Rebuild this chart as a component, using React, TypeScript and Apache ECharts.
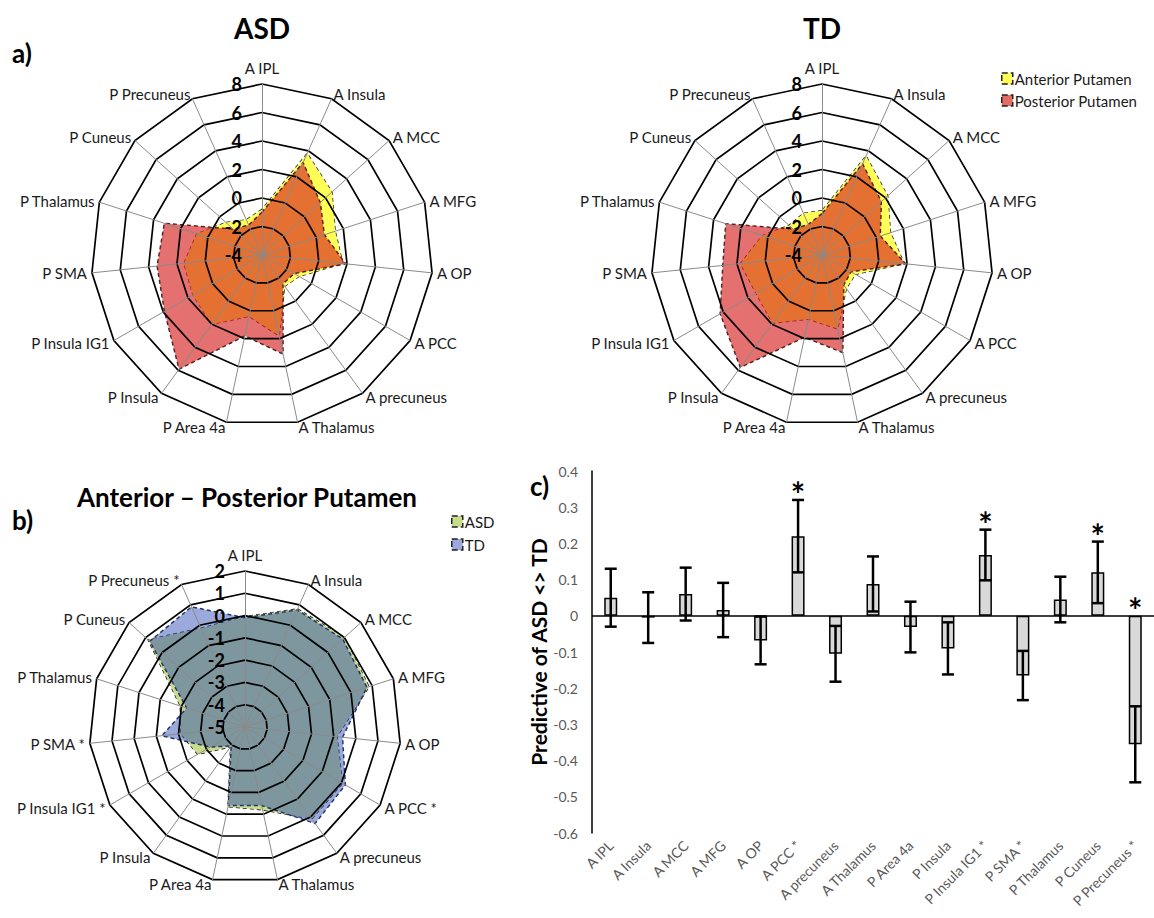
import React, { useEffect, useRef } from "react";
import * as echarts from "echarts";

const FONT = "Lato";

// Radar axes (clockwise from top, as in the figure)
const radarAxes = ["A IPL", "A Insula", "A MCC", "A MFG", "A OP", "A PCC", "A precuneus", "A Thalamus", "P Area 4a", "P Insula", "P Insula IG1", "P SMA", "P Thalamus", "P Cuneus", "P Precuneus"];
const diffAxes = ["A IPL", "A Insula", "A MCC", "A MFG", "A OP", "A PCC *", "A precuneus", "A Thalamus", "P Area 4a", "P Insula", "P Insula IG1 *", "P SMA *", "P Thalamus", "P Cuneus", "P Precuneus *"];

// a) ASD
const asdAnterior = [-0.8, 3.8, 2.6, 1.4, 1.7, -1.0, -1.3, 1.8, 0.4, 2.0, 1.6, 1.5, 0.8, -0.6, -1.3];
const asdPosterior = [-1.0, 3.1, 1.5, 0.6, 1.9, -1.4, -1.5, 3.1, 1.8, 5.9, 3.9, 3.4, 3.2, -1.3, -1.7];
// a) TD
const tdAnterior = [-0.9, 3.6, 2.2, 1.05, 1.8, -1.3, -1.1, 1.3, 0.6, 1.9, 1.35, 1.75, 0.4, -0.9, -0.8];
const tdPosterior = [-1.1, 3.0, 1.6, 0.3, 1.9, -1.65, -1.4, 3.0, 1.9, 5.75, 4.25, 3.0, 3.1, -1.3, -1.65];
// b) Anterior - Posterior
const diffASD = [-0.05, 0.8, 1.0, 0.85, -0.85, 0.05, 0.1, -1.2, -1.35, -3.9, -2.55, -2.1, -1.95, 0.85, -0.15];
const diffTD = [-0.1, 0.75, 0.9, 0.75, -0.6, 0.2, 0.35, -1.4, -1.4, -3.95, -3.2, -1.25, -2.25, 0.75, 0.9];

// c) bar chart
const barCategories = diffAxes;
const barValues = [0.05, -0.005, 0.06, 0.016, -0.068, 0.22, -0.105, 0.088, -0.031, -0.09, 0.168, -0.165, 0.045, 0.12, -0.355];
const barErrors = [0.08, 0.07, 0.073, 0.075, 0.066, 0.1, 0.077, 0.076, 0.07, 0.072, 0.07, 0.068, 0.063, 0.085, 0.105];
const barStar = [0, 0, 0, 0, 0, 1, 0, 0, 0, 0, 1, 0, 0, 1, 1];

// ECharts radar runs counter-clockwise: reorder to get clockwise layout
const order = radarAxes.map((_, i) => (i === 0 ? 0 : radarAxes.length - i));
const reorder = (arr: any[]) => order.map((k) => arr[k]);

const YELLOW = "rgb(255,255,85)";
const RED = "rgba(212,32,30,0.64)";
const GREEN = "rgb(200,220,140)";
const BLUE = "rgba(45,75,180,0.48)";

function makeRadar(center: number[], radius: number, min: number, max: number, split: number, names: string[], labelSize: number) {
  const nm = reorder(names);
  return {
    center,
    radius,
    startAngle: 90,
    splitNumber: split,
    shape: "polygon",
    z: 3,
    nameGap: 5,
    indicator: nm.map((n: string, j: number) => ({
      name: n,
      min,
      max,
      axisLabel: { show: j === 0 },
    })),
    axisName: { color: "#1a1a1a", fontSize: 15, fontFamily: FONT },
    axisLine: { lineStyle: { color: "#8a8a8a", width: 1 } },
    splitLine: { lineStyle: { color: "#000", width: 1.7 } },
    splitArea: { show: false },
    axisTick: { show: false },
    axisLabel: {
      show: false,
      color: "#000",
      fontWeight: "bold",
      fontSize: labelSize,
      fontFamily: FONT,
      align: "right",
      padding: [0, 12, 0, 0],
      formatter: (v: number) => String(Math.round(v)),
    },
  };
}

const dashed = (c: string) => ({ color: c, type: [4, 3], width: 1.5 });

export default function App() {
  const ref = useRef<HTMLDivElement>(null);
  useEffect(() => {
    if (!ref.current) return;
    const chart = echarts.init(ref.current, null, { renderer: "svg" });
    const errData = barValues.map((v, i) => [i, v - barErrors[i], v + barErrors[i], barStar[i]]);
    const option: any = {
      animation: false,
      textStyle: { fontFamily: FONT },
      legend: [
        {
          orient: "vertical",
          left: 996,
          top: 66,
          itemWidth: 11,
          itemHeight: 11,
          itemGap: 7,
          icon: "rect",
          textStyle: { fontSize: 15, color: "#1a1a1a", fontFamily: FONT, padding: [0, 0, 0, -3] },
          data: [
            { name: "Anterior Putamen", itemStyle: { color: YELLOW, borderColor: "#222", borderWidth: 1.5, borderType: "dashed" } },
            { name: "Posterior Putamen", itemStyle: { color: "rgb(226,109,102)", borderColor: "#222", borderWidth: 1.5, borderType: "dashed" } },
          ],
        },
        {
          orient: "vertical",
          left: 446,
          top: 509,
          itemWidth: 11,
          itemHeight: 11,
          itemGap: 8,
          icon: "rect",
          textStyle: { fontSize: 15, color: "#1a1a1a", fontFamily: FONT, padding: [0, 0, 0, -3] },
          data: [
            { name: "ASD", itemStyle: { color: GREEN, borderColor: "#222", borderWidth: 1.5, borderType: "dashed" } },
            { name: "TD", itemStyle: { color: "rgb(155,170,222)", borderColor: "#222", borderWidth: 1.5, borderType: "dashed" } },
          ],
        },
      ],
      radar: [
        makeRadar([262, 255], 171, -4, 8, 6, radarAxes, 18),
        makeRadar([822, 255], 171, -4, 8, 6, radarAxes, 18),
        makeRadar([245, 727], 156, -5, 2, 7, diffAxes, 18),
      ],
      grid: { left: 592, top: 471, width: 568, height: 362 },
      xAxis: {
        type: "category",
        data: barCategories,
        axisLine: { show: false, onZero: false },
        axisTick: { show: false },
        axisLabel: { rotate: 45, interval: 0, color: "#595959", fontSize: 14, margin: 10, fontFamily: FONT },
        splitLine: { show: false },
      },
      yAxis: {
        type: "value",
        min: -0.6,
        max: 0.4,
        interval: 0.1,
        axisLine: { show: true, lineStyle: { color: "#000", width: 1.5 } },
        axisTick: { show: false },
        splitLine: { show: false },
        axisLabel: {
          color: "#595959",
          fontSize: 14,
          margin: 14,
          fontFamily: FONT,
          formatter: (v: number) => String(Math.round(v * 10) / 10),
        },
        name: "Predictive of ASD <> TD",
        nameLocation: "middle",
        nameGap: 41,
        nameRotate: 90,
        nameTextStyle: { fontSize: 21, fontWeight: "bold", color: "#000", fontFamily: FONT },
      },
      series: [
        {
          type: "radar",
          radarIndex: 0,
          symbol: "none",
          z: 2,
          data: [
            { name: "Anterior Putamen", value: reorder(asdAnterior), areaStyle: { color: YELLOW, opacity: 1 }, lineStyle: dashed("#222"), itemStyle: { color: YELLOW } },
            { name: "Posterior Putamen", value: reorder(asdPosterior), areaStyle: { color: RED, opacity: 1 }, lineStyle: dashed("#222"), itemStyle: { color: "rgb(226,109,102)" } },
          ],
        },
        {
          type: "radar",
          radarIndex: 1,
          symbol: "none",
          z: 2,
          data: [
            { name: "Anterior Putamen", value: reorder(tdAnterior), areaStyle: { color: YELLOW, opacity: 1 }, lineStyle: dashed("#222"), itemStyle: { color: YELLOW } },
            { name: "Posterior Putamen", value: reorder(tdPosterior), areaStyle: { color: RED, opacity: 1 }, lineStyle: dashed("#222"), itemStyle: { color: "rgb(226,109,102)" } },
          ],
        },
        {
          type: "radar",
          radarIndex: 2,
          symbol: "none",
          z: 2,
          data: [
            { name: "ASD", value: reorder(diffASD), areaStyle: { color: GREEN, opacity: 1 }, lineStyle: dashed("#1a1a1a"), itemStyle: { color: GREEN } },
            { name: "TD", value: reorder(diffTD), areaStyle: { color: BLUE, opacity: 1 }, lineStyle: dashed("#1f2d5a"), itemStyle: { color: "rgb(155,170,222)" } },
          ],
        },
        {
          type: "bar",
          data: barValues,
          barWidth: 13,
          itemStyle: { color: "#d9d9d9", borderColor: "#000", borderWidth: 1.5 },
          markLine: {
            silent: true,
            symbol: "none",
            label: { show: false },
            lineStyle: { color: "#000", width: 1.5, type: "solid" },
            data: [{ yAxis: 0 }],
          },
        },
        {
          type: "custom",
          data: errData,
          encode: { x: 0, y: [1, 2] },
          z: 3,
          renderItem: (params: any, api: any) => {
            const idx = api.value(0);
            const lo = api.value(1);
            const hi = api.value(2);
            const star = api.value(3);
            const pLo = api.coord([idx, lo]);
            const pHi = api.coord([idx, hi]);
            const x = pLo[0];
            const cap = 6;
            const st = { stroke: "#000", lineWidth: 2.5 };
            const children: any[] = [
              { type: "line", shape: { x1: x, y1: pLo[1], x2: x, y2: pHi[1] }, style: st },
              { type: "line", shape: { x1: x - cap, y1: pLo[1], x2: x + cap, y2: pLo[1] }, style: st },
              { type: "line", shape: { x1: x - cap, y1: pHi[1], x2: x + cap, y2: pHi[1] }, style: st },
            ];
            if (star) {
              const topY = api.coord([idx, Math.max(hi, 0)])[1];
              children.push({
                type: "text",
                style: { text: "*", x, y: topY + 11, textAlign: "center", textVerticalAlign: "bottom", fontSize: 34, fontWeight: "bold", fill: "#000", fontFamily: FONT },
              });
            }
            return { type: "group", children };
          },
        },
      ],
      graphic: [
        { type: "text", left: 12, top: 40, style: { text: "a)", fontSize: 26, fontWeight: "bold", fill: "#000", fontFamily: FONT } },
        { type: "text", left: 12, top: 507, style: { text: "b)", fontSize: 26, fontWeight: "bold", fill: "#000", fontFamily: FONT } },
        { type: "text", left: 530, top: 473, style: { text: "c)", fontSize: 26, fontWeight: "bold", fill: "#000", fontFamily: FONT } },
        { type: "text", x: 262, y: 28, style: { text: "ASD", fontSize: 28, fontWeight: "bold", fill: "#000", fontFamily: FONT, textAlign: "center", textVerticalAlign: "middle" } },
        { type: "text", x: 822, y: 28, style: { text: "TD", fontSize: 28, fontWeight: "bold", fill: "#000", fontFamily: FONT, textAlign: "center", textVerticalAlign: "middle" } },
        { type: "text", x: 247, y: 497, style: { text: "Anterior – Posterior Putamen", fontSize: 26, fontWeight: "bold", fill: "#000", fontFamily: FONT, textAlign: "center", textVerticalAlign: "middle" } },
      ],
    };
    chart.setOption(option);
    return () => chart.dispose();
  }, []);
  return <div ref={ref} style={{ position: "fixed", left: 0, top: 0, width: 1154, height: 918, background: "#fff" }} />;
}
